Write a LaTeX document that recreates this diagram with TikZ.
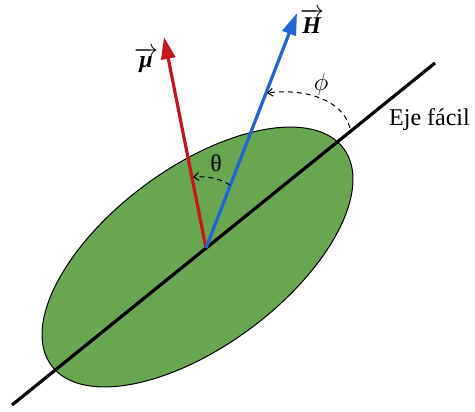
\RequirePackage{fix-cm}
\documentclass[tikz,border=0pt]{standalone}
\usepackage{fontspec}
\setmainfont{Liberation Serif}
\usepackage{amsmath}
\usetikzlibrary{arrows.meta}
\definecolor{leafgreen}{RGB}{104,166,82}
\definecolor{vred}{RGB}{200,22,30}
\definecolor{vblue}{RGB}{32,102,212}
\begin{document}
\begin{tikzpicture}[x=1pt,y=-1pt,
  vec/.style={line width=3.2pt,-{Triangle[length=22pt,width=14pt]}},
  anglearc/.style={line width=1pt,dash pattern=on 5pt off 4pt,-{Straight Barb[length=5pt,width=8pt]}},
  lbl/.style={inner sep=0pt}]
\useasboundingbox (0,0) rectangle (475,412);
\fill[leafgreen, draw=black, line width=1pt, rotate around={36.6:(197.5,257)}] (197.5,257) ellipse [x radius=182, y radius=89];
\coordinate (A1) at (12,405);
\coordinate (A2) at (435,63);
\coordinate (O) at (206,248);
\coordinate (M) at (164,37);
\coordinate (H) at (297,13);
\draw[line width=3.2pt] (A1) -- (A2);
\draw[vec, vred] (O) -- (M);
\draw[vec, vblue] (O) -- (H);
\coordinate (t1) at (230,185);
\coordinate (t2) at (193,177);
\draw[anglearc] (t1) .. controls (219,178) and (206,176) .. (t2);
\coordinate (p1) at (350,128);
\coordinate (p2) at (267,93);
\draw[anglearc] (p1) .. controls (343,100) and (305,88) .. (p2);
\node[lbl] (mulbl) at (146,60) {\fontsize{24}{28}\selectfont$\overrightarrow{\textbf{\textit{μ}}}$};
\node[lbl] (hlbl) at (312,21) {\fontsize{24}{28}\selectfont$\overrightarrow{\textbf{\textit{H}}}$};
\node[lbl] (philbl) at (321,84) {\fontsize{25}{29}\selectfont$\phi$};
\node[lbl] (thlbl) at (216,163) {\fontsize{24}{28}\selectfont θ};
\node[lbl,anchor=base west] (axlbl) at (389,126) {\fontsize{24}{28}\selectfont Eje fácil};
\end{tikzpicture}
\end{document}
